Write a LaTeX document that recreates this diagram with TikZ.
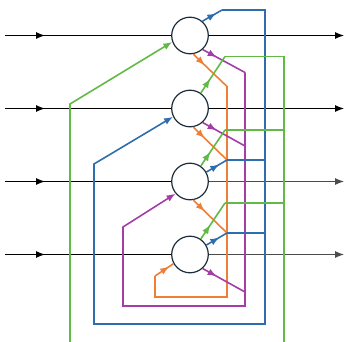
\documentclass[tikz,border=0pt]{standalone}
\usetikzlibrary{arrows.meta,decorations.markings}
\definecolor{cblue}{HTML}{2F6EAD}
\definecolor{cgreen}{HTML}{62B946}
\definecolor{cpurple}{HTML}{A43DA6}
\definecolor{corange}{HTML}{EF7F34}
\definecolor{cnode}{HTML}{1E2D3B}
\begin{document}
\begin{tikzpicture}[x=1pt,y=-1pt,
  neuron/.style={circle,draw=cnode,line width=1.2pt,fill=white,minimum size=36.6pt,inner sep=0pt},
  sig/.style={line width=1.1pt},
  wire/.style={line width=1.6pt},
  tipend/.style={-{Latex[length=9pt,width=7pt]}},
  marr/.style={postaction={decorate},decoration={markings,mark=at position #1 with {\arrow{Latex[length=9pt,width=7pt]}}}},
]
\useasboundingbox (0,0) rectangle (346,342);
% neurons
\node[neuron] (n1) at (190,35.5) {};
\node[neuron] (n2) at (190,108.5) {};
\node[neuron] (n3) at (190,181.5) {};
\node[neuron] (n4) at (190,254.5) {};
% input / output lines
\coordinate (i1) at (5,35.5);  \coordinate (o1) at (344,35.5);
\coordinate (i2) at (5,108.5); \coordinate (o2) at (344,108.5);
\coordinate (i3) at (5,181.5);   \coordinate (o3) at (344,181.5);
\coordinate (i4) at (5,254.5);   \coordinate (o4) at (344,254.5);
\draw[sig,marr=40pt] (i1) -- (n1);
\draw[sig,marr=40pt] (i2) -- (n2);
\draw[sig,marr=40pt] (i3) -- (n3);
\draw[sig,marr=40pt] (i4) -- (n4);
\draw[sig,tipend] (n1) -- (o1);
\draw[sig,tipend] (n2) -- (o2);
\draw[sig,tipend,black!70] (n3) -- (o3);
\draw[sig,tipend,black!70] (n4) -- (o4);
% corner coordinates
\coordinate (b1) at (222,10);
\coordinate (b3) at (227,160);
\coordinate (b4) at (227,233);
\coordinate (g2) at (225,56.5);
\coordinate (g3) at (225,130);
\coordinate (g4) at (225,203);
\coordinate (p1) at (245,72.5);
\coordinate (p2) at (245,146);
\coordinate (p4) at (245,292);
\coordinate (r1) at (227,86.5);
\coordinate (r2) at (227,160);
\coordinate (r3) at (227,233);
% orange -> neuron 4
\draw[wire,corange,marr=16pt] (n1.-80) -- (r1);
\draw[wire,corange,marr=16pt] (n2.-80) -- (r2);
\draw[wire,corange,marr=16pt] (n3.-80) -- (r3);
\coordinate (ro) at (155,276);
\draw[wire,corange] (r1) -- (227,297) -- (155,297) -- (ro);
\draw[wire,corange,marr=17pt] (ro) -- (n4.209);
% purple -> neuron 3
\draw[wire,cpurple,marr=16pt] (n1.-48) -- (p1);
\draw[wire,cpurple,marr=16pt] (n2.-48) -- (p2);
\draw[wire,cpurple,marr=16pt] (n4.-48) -- (p4);
\draw[wire,cpurple,tipend] (p1) -- (245,306) -- (123,306) -- (123,227) -- (n3.220);
% blue -> neuron 2
\draw[wire,cblue,marr=16pt] (n1.49) -- (b1);
\draw[wire,cblue,marr=15pt] (n3.30) -- (b3);
\draw[wire,cblue,marr=15pt] (n4.30) -- (b4);
\draw[wire,cblue] (b3) -- (265,160);
\draw[wire,cblue] (b4) -- (265,233);
\draw[wire,cblue,tipend] (b1) -- (265,10) -- (265,324) -- (94,324) -- (94,164) -- (n2.206);
% green -> neuron 1
\draw[wire,cgreen,marr=17pt] (n2.55) -- (g2);
\draw[wire,cgreen,marr=17pt] (n3.55) -- (g3);
\draw[wire,cgreen,marr=17pt] (n4.55) -- (g4);
\draw[wire,cgreen] (g3) -- (284,130);
\draw[wire,cgreen] (g4) -- (284,203);
\draw[wire,cgreen] (g2) -- (284,56.5) -- (284,343);
\draw[wire,cgreen,tipend] (70,343) -- (70,104) -- (n1.200);
\end{tikzpicture}
\end{document}
